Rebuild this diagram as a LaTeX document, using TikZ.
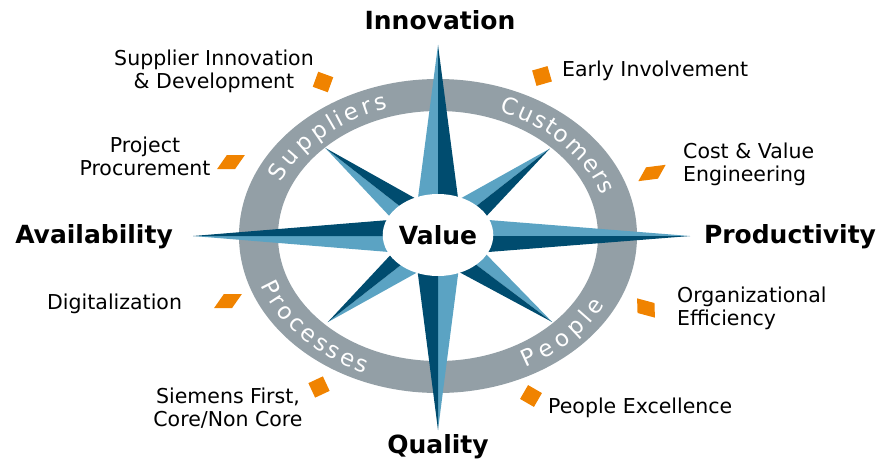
\documentclass[tikz,border=0pt]{standalone}
\usepackage{fontspec}
\setmainfont{DejaVu Sans}
\usetikzlibrary{calc,shapes.geometric,decorations.text}
\definecolor{ringGray}{HTML}{939FA6}
\definecolor{armLight}{HTML}{5BA3C3}
\definecolor{armDark}{HTML}{004C6F}
\definecolor{markerOrange}{HTML}{F08300}
\tikzstyle{bigLabel}=[font=\fontsize{25}{30}\selectfont\bfseries, inner sep=0pt, anchor=base]
\tikzstyle{itemLabel}=[font=\fontsize{20.5}{23}\selectfont, inner sep=0pt]
\tikzstyle{marker}=[fill=markerOrange, minimum size=16pt, inner sep=0pt]
\tikzstyle{sideMarker}=[marker, minimum width=18pt, minimum height=14pt]
\tikzstyle{ringText}=[decorate, decoration={text effects along path, raise=-8pt,
	text effects/.cd, text along path, fit text to path,
	characters={text=white, font=\fontsize{23}{23}\selectfont}}]

\begin{document}
\begin{tikzpicture}[x=1pt, y=1pt]
	\useasboundingbox (0,0) rectangle (883,459);

	\begin{scope}[shift={(438,223)}]
		\coordinate (c) at (0,0);
		% ring
		\fill[ringGray, even odd rule] (c) ellipse [x radius=199, y radius=157]
			(c) ellipse [x radius=160, y radius=125];

		% compass arms: angle/length/half width
		\foreach \a/\r/\w in {90/191/25, 0/252/20, 270/194/25, 180/245/20,
			38/142/22, 142/143/22, 218/140/22, 323/143/22} {
			\fill[armLight] (c) -- (\a:\r) -- (\a+90:\w) -- cycle;
			\fill[armDark] (c) -- (\a:\r) -- (\a-90:\w) -- cycle;
		}

		\node[ellipse, fill=white, minimum width=108pt, minimum height=82pt, inner sep=0pt,
			font=\fontsize{25}{30}\selectfont\bfseries] (hub) at (0,1) {Value};

		% ring texts
		\path[ringText, decoration={text={Suppliers}}]
			(156:179.5 and 141) arc[start angle=156, end angle=107, x radius=179.5, y radius=141];
		\path[ringText, decoration={text={Customers}}]
			(69:179.5 and 141) arc[start angle=69, end angle=18, x radius=179.5, y radius=141];
		\path[ringText, decoration={text={People}}]
			(298:179.5 and 141) arc[start angle=298, end angle=333, x radius=179.5, y radius=141];
		\path[ringText, decoration={text={Processes}}]
			(199:179.5 and 141) arc[start angle=199, end angle=247, x radius=179.5, y radius=141];
	\end{scope}

	\node[bigLabel] (innovation) at (440,429) {Innovation};
	\node[bigLabel] (availability) at (94,216) {Availability};
	\node[bigLabel] (productivity) at (790,216) {Productivity};
	\node[bigLabel] (quality) at (438,6) {Quality};

	\node[marker, rotate=-20] (m1) at (323,377) {};
	\node[sideMarker, xslant=0.7] (m2) at (231,297) {};
	\node[marker, rotate=16] (m3) at (542,383) {};
	\node[sideMarker, xslant=0.7, rotate=8] (m4) at (652,286) {};
	\node[sideMarker, xslant=0.7] (m5) at (228,158) {};
	\node[marker, rotate=25] (m6) at (319,72) {};
	\node[sideMarker, rotate=-15, xslant=-0.3] (m7) at (646,151) {};
	\node[marker, rotate=-30] (m8) at (531,63) {};

	\node[itemLabel, align=center, anchor=north] (supplier) at (214,409.5) {Supplier Innovation\\\& Development};
	\node[itemLabel, align=center, anchor=north] (project) at (145,322.5) {Project\\Procurement};
	\node[itemLabel, anchor=base west] (early) at (562,383) {Early Involvement};
	\node[itemLabel, align=left, anchor=north west] (cost) at (683,316.5) {Cost \& Value\\Engineering};
	\node[itemLabel, anchor=base west] (digital) at (47,150) {Digitalization};
	\node[itemLabel, align=center, anchor=north] (siemens) at (228,71.5) {Siemens First,\\Core/Non Core};
	\node[itemLabel, align=left, anchor=north west] (orgeff) at (677,172.5) {Organizational\\Efficiency};
	\node[itemLabel, anchor=base west] (excellence) at (548,46) {People Excellence};
\end{tikzpicture}
\end{document}
